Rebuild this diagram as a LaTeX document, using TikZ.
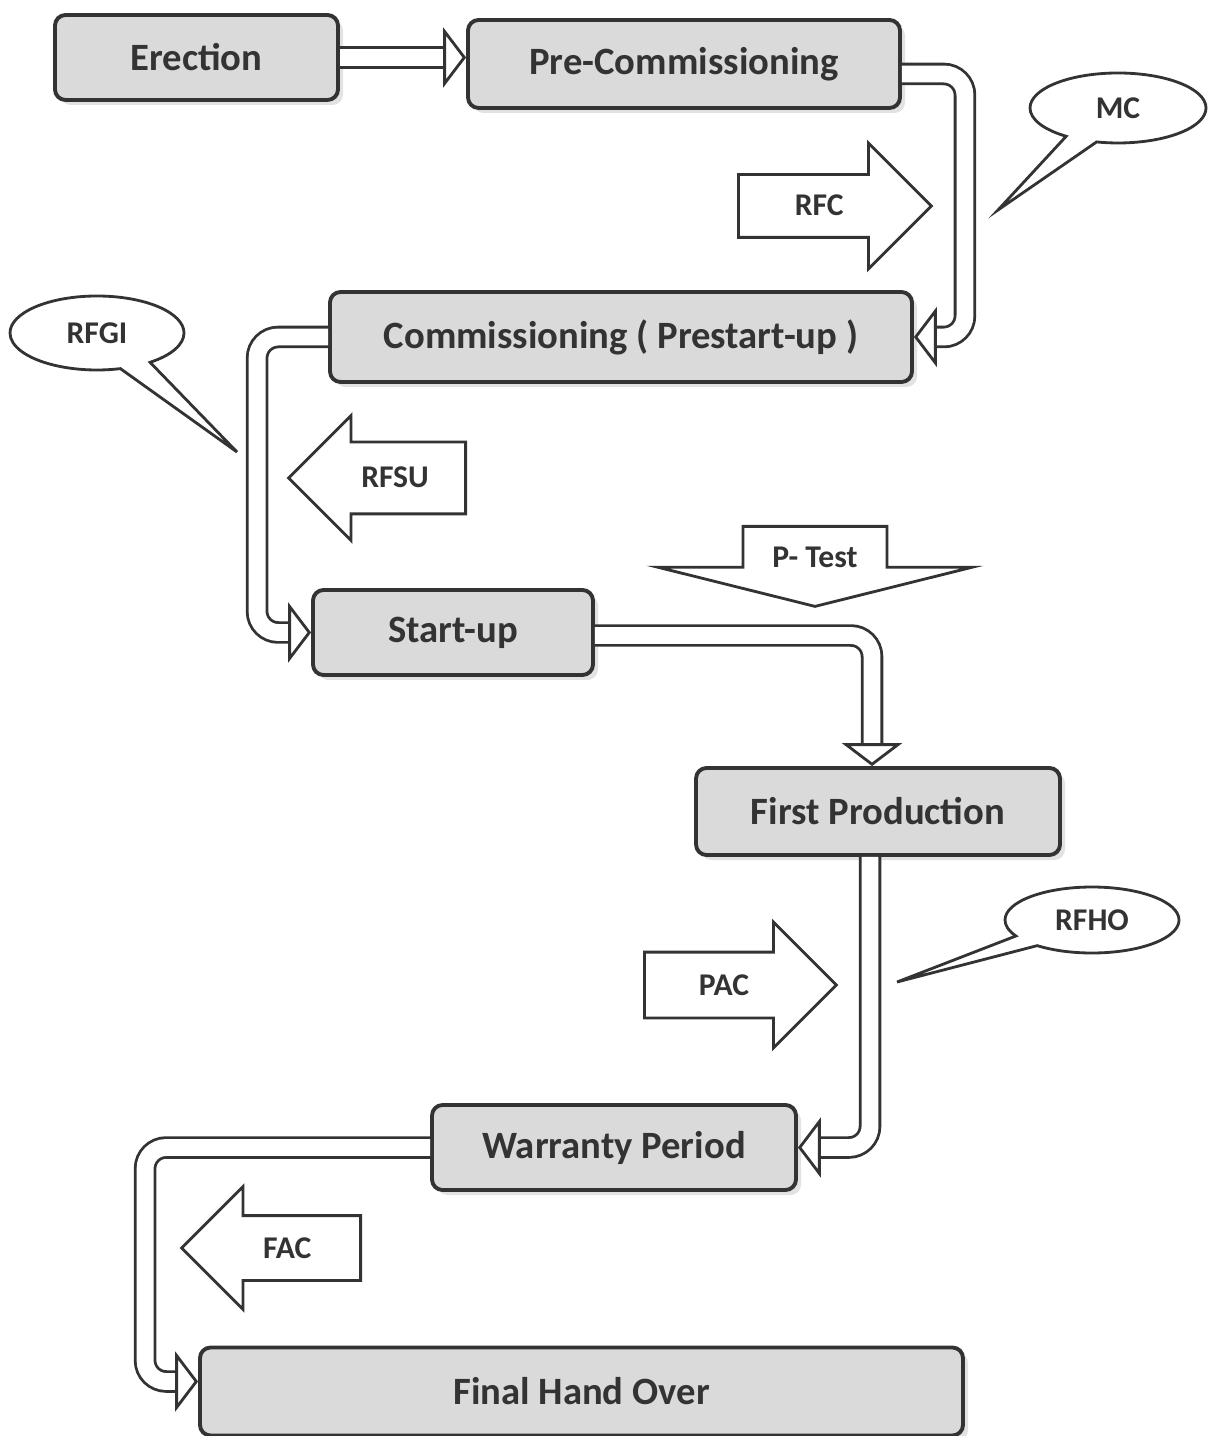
\documentclass[tikz,border=0pt]{standalone}
\usepackage{fontspec}
\setmainfont{Carlito}
\usepackage{xcolor}
\usetikzlibrary{arrows.meta, shapes.arrows, shapes.callouts, shadows}
\definecolor{ink}{HTML}{333333}
\definecolor{paper}{HTML}{DADADA}

\begin{document}
\begin{tikzpicture}[
  text=ink,
  stage/.style={draw=ink, line width=1.1pt, rounded corners=3pt, fill=paper,
                drop shadow={shadow xshift=0.5mm, shadow yshift=-0.5mm, fill=gray!45},
                font=\fontsize{11}{13}\selectfont\bfseries, inner sep=0pt},
  pipe/.style={draw=ink, line width=0.8pt, double=white, double distance=4.8pt,
               rounded corners=6pt, -{Triangle[open, length=6.5pt, width=17pt]}},
  fatarrow/.style={single arrow, draw=ink, line width=0.8pt, fill=white,
                   inner xsep=0pt, text height=2mm, text depth=0pt,
                   font=\fontsize{9}{11}\selectfont\bfseries},
  bubble/.style={ellipse callout, draw=ink, line width=0.8pt, fill=white,
                 callout pointer arc=22, inner sep=0pt,
                 font=\fontsize{9}{11}\selectfont\bfseries}
]
\useasboundingbox (0,0) rectangle (12.08,-14.36);

% stages
\node[stage, minimum width=2.83cm, minimum height=0.85cm] (erection) at (1.965,-0.575) {Erection};
\node[stage, minimum width=4.32cm, minimum height=0.88cm] (precomm) at (6.84,-0.64) {Pre-Commissioning};
\node[stage, minimum width=5.82cm, minimum height=0.90cm] (comm) at (6.21,-3.37) {Commissioning ( Prestart-up )};
\node[stage, minimum width=2.80cm, minimum height=0.85cm] (startup) at (4.53,-6.325) {Start-up};
\node[stage, minimum width=3.64cm, minimum height=0.87cm] (firstprod) at (8.78,-8.115) {First Production};
\node[stage, minimum width=3.64cm, minimum height=0.85cm] (warranty) at (6.14,-11.475) {Warranty Period};
\node[stage, minimum width=7.63cm, minimum height=0.88cm] (finalho) at (5.815,-13.915) {Final Hand Over};

% milestone arrows
\node[fatarrow, anchor=tail, minimum height=1.93cm, single arrow head extend=0.315cm, inner ysep=0.2cm] (rfc) at (7.37,-2.06) {RFC};
\node[fatarrow, shape border rotate=180, anchor=tail, minimum height=1.77cm, single arrow head extend=0.265cm, inner ysep=0.245cm] (rfsu) at (4.67,-4.78) {RFSU};
\node[fatarrow, shape border rotate=270, single arrow tip angle=152, anchor=tail, minimum height=0.80cm, single arrow head extend=0.85cm, inner xsep=0.28cm, inner ysep=0.05cm] (ptest) at (8.15,-5.25) {P- Test};
\node[fatarrow, anchor=tail, minimum height=1.92cm, single arrow head extend=0.30cm, inner ysep=0.215cm] (pac) at (6.43,-9.85) {PAC};
\node[fatarrow, shape border rotate=180, anchor=tail, minimum height=1.79cm, single arrow head extend=0.29cm, inner ysep=0.21cm] (fac) at (3.62,-12.48) {FAC};

% callouts
\node[bubble, minimum width=1.76cm, minimum height=0.70cm, callout absolute pointer={(9.98,-2.10)}] (mc) at (11.18,-1.08) {MC};
\node[bubble, minimum width=1.74cm, minimum height=0.74cm, callout absolute pointer={(2.37,-4.52)}] (rfgi) at (0.97,-3.33) {RFGI};
\node[bubble, minimum width=1.74cm, minimum height=0.66cm, callout absolute pointer={(8.97,-9.82)}] (rfho) at (10.92,-9.20) {RFHO};

% flow
\draw[pipe] (erection.east) -- (erection.east -| precomm.west);
\draw[pipe] ([yshift=-1mm]precomm.east) -- ++(0.63,0) |- (comm.east);
\draw[pipe] (comm.west) -- ++(-0.71,0) |- (startup.west);
\draw[pipe] ([yshift=-0.3mm]startup.east) -| ([xshift=-0.6mm]firstprod.north);
\draw[pipe] ([xshift=-0.8mm]firstprod.south) |- (warranty.east);
\draw[pipe] (warranty.west) -- ++(-2.85,0) |- ([yshift=1mm]finalho.west);
\end{tikzpicture}
\end{document}
